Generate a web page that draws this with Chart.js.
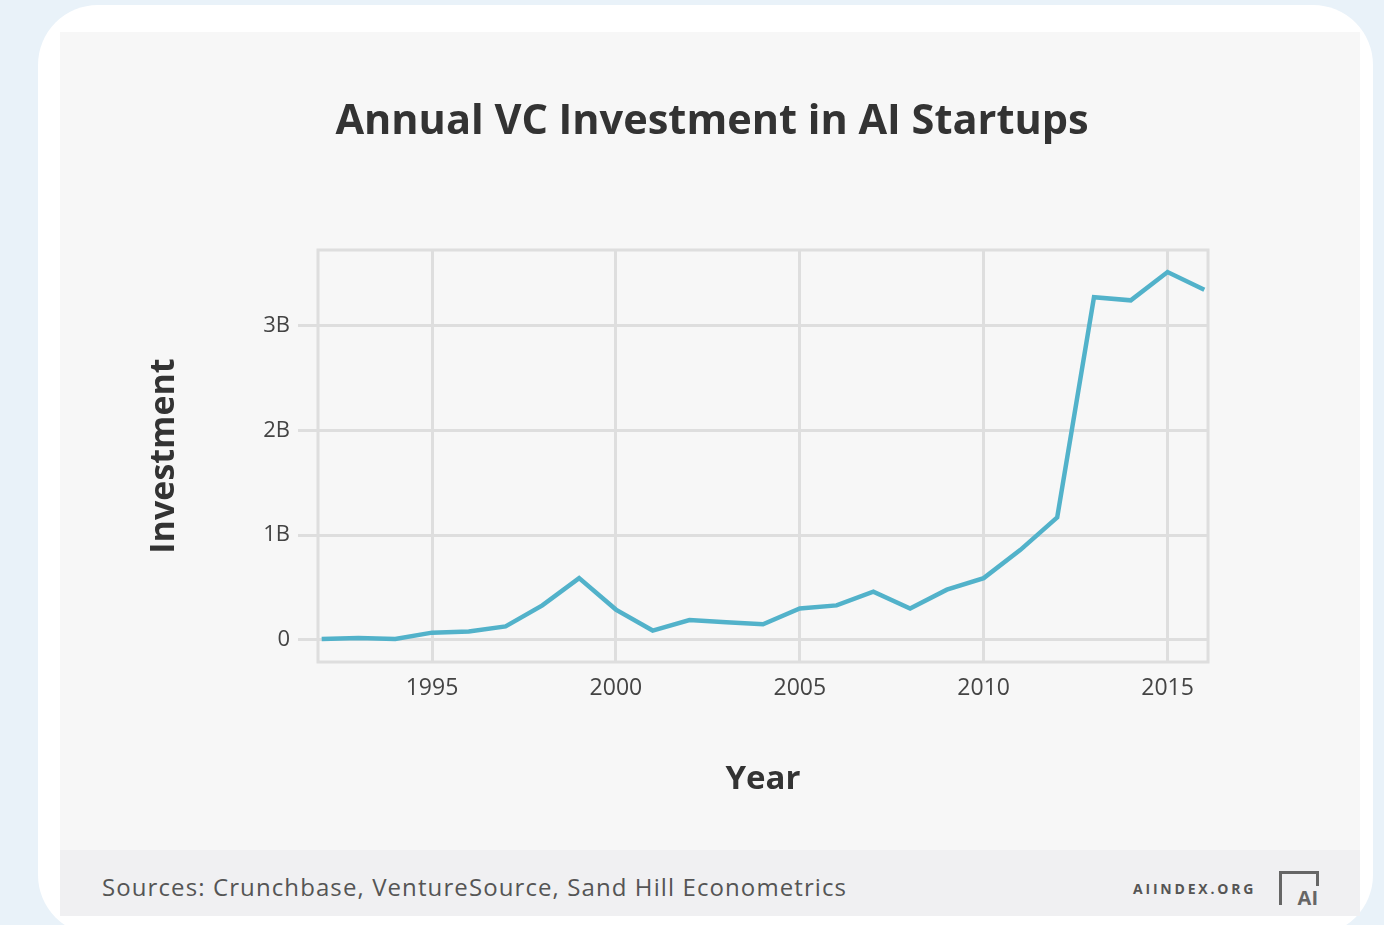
<!DOCTYPE html>
<html>
<head>
<meta charset="utf-8">
<title>Annual VC Investment in AI Startups</title>
<script src="https://cdn.jsdelivr.net/npm/chart.js@4.4.1/dist/chart.umd.min.js"></script>
<style>
  html, body { margin: 0; padding: 0; }
  body {
    width: 1384px; height: 925px; overflow: hidden;
    background: #e9f2f9;
    font-family: "Open Sans", Lato, sans-serif;
    position: relative;
  }
  .card {
    position: absolute; left: 38px; top: 5px; width: 1335px; height: 930px;
    background: #ffffff; border-radius: 60px;
  }
  .panel {
    position: absolute; left: 60px; top: 32px; width: 1300px; height: 818px;
    background: #f7f7f7;
  }
  .footer {
    position: absolute; left: 60px; top: 850px; width: 1300px; height: 66px;
    background: #f0f0f2;
  }
  .sources {
    position: absolute; left: 102px; top: 870px;
    font-size: 24px; color: #555; letter-spacing: 1.1px;
  }
  .brand {
    position: absolute; left: 1133px; top: 879px;
    font-size: 14px; font-weight: bold; color: #555; letter-spacing: 2.8px;
  }
  .logo {
    position: absolute; left: 1279px; top: 871px; width: 40px; height: 34px;
    border-top: 3px solid #666; border-left: 3px solid #666;
    box-sizing: border-box;
  }
  .logo::after {
    content: ''; position: absolute; right: 0; top: 0; width: 3px; height: 12px; background: #666;
  }
  .logo span {
    position: absolute; right: 1px; bottom: -3px;
    font-size: 20px; font-weight: bold; color: #666; line-height: 20px;
  }
  #chart { position: absolute; left: 0; top: 0; }
</style>
</head>
<body>
<div class="card"></div>
<div class="panel"></div>
<div class="footer"></div>
<div class="sources">Sources: Crunchbase, VentureSource, Sand Hill Econometrics</div>
<div class="brand">AIINDEX.ORG</div>
<div class="logo"><span>AI</span></div>
<canvas id="chart" width="1384" height="850"></canvas>

<script>
// Annual VC investment in AI startups, in billions of US dollars
const years = [1992, 1993, 1994, 1995, 1996, 1997, 1998, 1999, 2000, 2001, 2002, 2003,
               2004, 2005, 2006, 2007, 2008, 2009, 2010, 2011, 2012, 2013, 2014, 2015, 2016];
const investment = [0.01, 0.02, 0.01, 0.07, 0.08, 0.13, 0.33, 0.59, 0.29, 0.09, 0.19, 0.17,
                    0.15, 0.30, 0.33, 0.46, 0.30, 0.48, 0.59, 0.86, 1.17, 3.27, 3.24, 3.51, 3.34];
const xTickValues = [1995, 2000, 2005, 2010, 2015];
const yTickValues = [0, 1, 2, 3];

const gridColor = '#dedede';
const textColor = '#444';
const fontFamily = 'Open Sans';

// outline round the plotting area
const frame = {
    id: 'frame',
    beforeDatasetsDraw(chart) {
        const { ctx, chartArea: a } = chart;
        ctx.save();
        ctx.strokeStyle = gridColor;
        ctx.lineWidth = 3;
        ctx.strokeRect(a.left, a.top, a.right - a.left, a.bottom - a.top);
        ctx.restore();
    }
};

const ctx = document.getElementById('chart').getContext('2d');
new Chart(ctx, {
    type: 'line',
    data: {
        datasets: [{
            label: 'Investment',
            data: years.map((y, i) => ({ x: y, y: investment[i] })),
            borderColor: '#52b2ca',
            borderWidth: 4.5,
            pointRadius: 0,
            tension: 0,
            fill: false
        }]
    },
    options: {
        responsive: false,
        animation: false,
        layout: { padding: { left: 147, right: 107, top: 97, bottom: 0 } },
        plugins: {
            legend: { display: false },
            tooltip: { enabled: false },
            title: {
                display: true,
                text: 'Annual VC Investment in AI Startups',
                color: '#333',
                font: { family: fontFamily, size: 41.5, weight: 'bold', lineHeight: 1.2 },
                padding: { top: 0, bottom: 103.2 }
            }
        },
        scales: {
            x: {
                type: 'linear',
                min: 1991.9,
                max: 2016.1,
                afterBuildTicks: s => { s.ticks = xTickValues.map(v => ({ value: v })); },
                afterFit: s => { s.height = 188; },
                grid: { color: gridColor, lineWidth: 3, drawTicks: false },
                border: { display: false },
                ticks: {
                    color: textColor,
                    padding: 13,
                    maxRotation: 0,
                    font: { family: fontFamily, size: 23 },
                    callback: v => String(v)
                },
                title: {
                    display: true,
                    text: 'Year',
                    color: '#333',
                    font: { family: fontFamily, size: 33, weight: 'bold', lineHeight: 1.2 },
                    padding: { top: 0, bottom: 51 }
                }
            },
            y: {
                min: -0.21,
                max: 3.72,
                afterBuildTicks: s => { s.ticks = yTickValues.map(v => ({ value: v })); },
                afterFit: s => { s.width = 171; },
                grid: { color: gridColor, lineWidth: 3, drawTicks: true, tickLength: 20 },
                border: { display: false },
                ticks: {
                    color: textColor,
                    padding: 8,
                    font: { family: fontFamily, size: 22 },
                    callback: v => (v === 0 ? '0' : v + 'B')
                },
                title: {
                    display: true,
                    text: 'Investment',
                    color: '#333',
                    font: { family: fontFamily, size: 34, weight: 'bold', lineHeight: 1.2 },
                    padding: { top: -3, bottom: 0 }
                }
            },
            // empty right-hand axis that balances the title over the panel
            y2: {
                position: 'right',
                display: true,
                afterFit: s => { s.width = 69; },
                grid: { display: false },
                border: { display: false },
                ticks: { display: false }
            }
        }
    },
    plugins: [frame]
});
</script>
</body>
</html>
